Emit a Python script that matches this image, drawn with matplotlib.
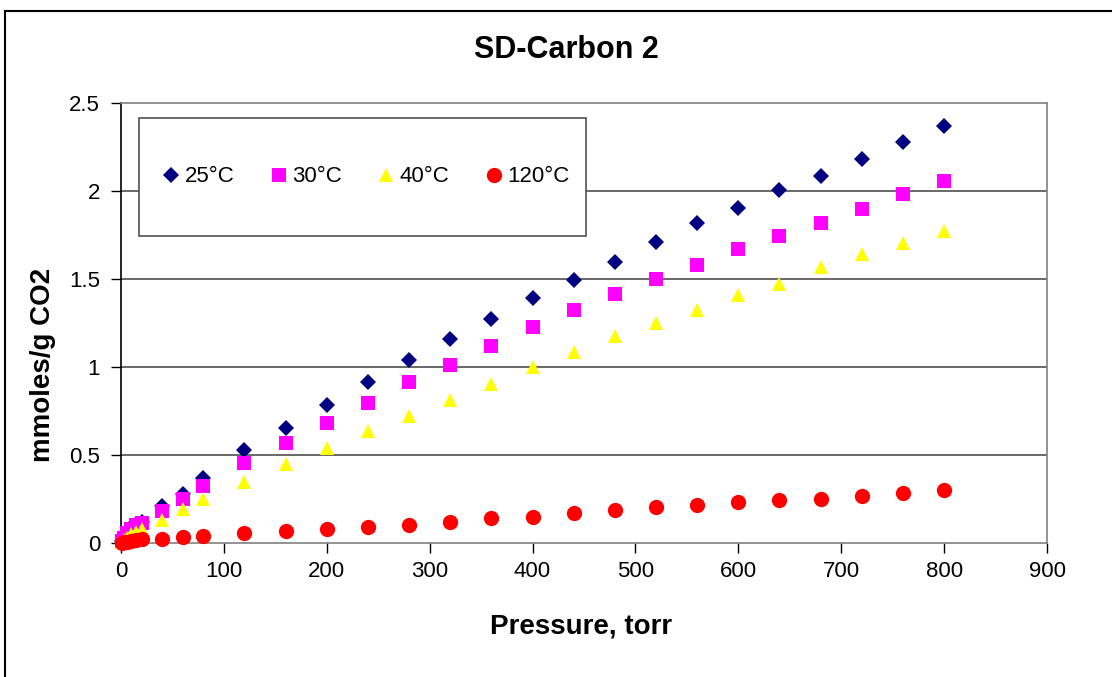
import matplotlib
matplotlib.use("Agg")
import matplotlib.pyplot as plt
from matplotlib.patches import Rectangle
from matplotlib.lines import Line2D

plt.rcParams['font.family'] = ['Liberation Sans', 'DejaVu Sans']

# pressure points, torr
pressure = [1, 3, 6, 10, 15, 20, 40, 60, 80, 120, 160, 200, 240, 280, 320,
            360, 400, 440, 480, 520, 560, 600, 640, 680, 720, 760, 800]

# mmoles/g CO2 at each temperature
co2_25 = [0.01, 0.03, 0.06, 0.09, 0.11, 0.12, 0.21, 0.28, 0.37, 0.53, 0.655,
          0.785, 0.917, 1.04, 1.16, 1.273, 1.393, 1.493, 1.598, 1.711, 1.816,
          1.903, 2.006, 2.085, 2.18, 2.281, 2.37]
co2_30 = [0.01, 0.03, 0.055, 0.08, 0.10, 0.115, 0.181, 0.25, 0.322, 0.452,
          0.566, 0.684, 0.794, 0.912, 1.013, 1.117, 1.225, 1.326, 1.416, 1.501,
          1.582, 1.672, 1.744, 1.816, 1.896, 1.985, 2.057]
co2_40 = [0.005, 0.015, 0.03, 0.05, 0.065, 0.08, 0.131, 0.193, 0.25, 0.344,
          0.45, 0.54, 0.636, 0.722, 0.813, 0.903, 0.998, 1.085, 1.174, 1.252,
          1.324, 1.407, 1.471, 1.568, 1.64, 1.706, 1.771]
co2_120 = [0.002, 0.005, 0.008, 0.012, 0.016, 0.02, 0.025, 0.034, 0.04, 0.054,
           0.068, 0.078, 0.089, 0.105, 0.118, 0.144, 0.15, 0.172, 0.188, 0.203,
           0.217, 0.231, 0.246, 0.252, 0.269, 0.284, 0.299]

labels = ['25°C', '30°C', '40°C', '120°C']
x_ticks = [0, 100, 200, 300, 400, 500, 600, 700, 800, 900]
y_ticks = [0, 0.5, 1, 1.5, 2, 2.5]

W, H = 1112, 677
fig = plt.figure(figsize=(W / 100, H / 100), dpi=100)
ax = fig.add_axes([121 / W, 1 - 543 / H, 926 / W, 440 / H])

# outer chart frame
fig.add_artist(Line2D([5 / W, 5 / W], [0, 1 - 11 / H], color='black', lw=1.5,
                      transform=fig.transFigure))
fig.add_artist(Line2D([5 / W, 1], [1 - 11 / H, 1 - 11 / H], color='black', lw=1.5,
                      transform=fig.transFigure))

#series, later ones drawn on top
ax.plot(pressure, co2_25, 'D', color='#000080', ms=8.5, mew=0, clip_on=False, zorder=3)
ax.plot(pressure, co2_30, 's', color='#FF00FF', ms=10.5, mew=0, clip_on=False, zorder=4)
ax.plot(pressure, co2_40, '^', color='#FFFF00', ms=10.5, mew=0, clip_on=False, zorder=5)
ax.plot(pressure, co2_120, 'o', color='#FF0000', ms=11, mew=0, clip_on=False, zorder=6)

ax.set_xlim(0, 900)
ax.set_ylim(0, 2.5)
ax.set_xticks(x_ticks)
ax.set_yticks(y_ticks)
ax.set_xticklabels([str(t) for t in x_ticks])
ax.set_yticklabels(['0', '0.5', '1', '1.5', '2', '2.5'])
ax.tick_params(axis='both', labelsize=16, direction='out', length=7, width=1,
               color='black')
ax.tick_params(axis='x', pad=6)
ax.tick_params(axis='y', pad=8)

for y in y_ticks[1:-1]:
    ax.axhline(y, color='#404040', lw=1.1, zorder=1)
for side in ['top', 'right', 'bottom']:
    ax.spines[side].set_color('#808080')
    ax.spines[side].set_linewidth(1.2)
ax.spines['left'].set_color('black')
ax.spines['left'].set_linewidth(1.2)

# legend box
ax.add_patch(Rectangle((18 / 926, (543 - 236) / 440), 447 / 926, 118 / 440,
                       transform=ax.transAxes, facecolor='white',
                       edgecolor='#505050', lw=1.2, zorder=7))
handles = [
    Line2D([], [], ls='', marker='D', color='#000080', ms=8.5, mew=0),
    Line2D([], [], ls='', marker='s', color='#FF00FF', ms=10.5, mew=0),
    Line2D([], [], ls='', marker='^', color='#FFFF00', ms=10.5, mew=0),
    Line2D([], [], ls='', marker='o', color='#FF0000', ms=11, mew=0),
]
leg = ax.legend(handles, labels, loc='center', ncol=4, frameon=False,
                bbox_to_anchor=((366 - 121) / 926, (543 - 177) / 440),
                fontsize=16, handlelength=0.8, handletextpad=0.2,
                columnspacing=1.6)
leg.set_zorder(8)

fig.text(566 / W, 1 - 50 / H, 'SD-Carbon 2', ha='center', va='center',
         fontsize=22, fontweight='bold')
fig.text(581 / W, 1 - 626 / H, 'Pressure, torr', ha='center', va='center',
         fontsize=20, fontweight='bold')
fig.text(43 / W, 1 - 365 / H, 'mmoles/g CO2', ha='center', va='center',
         rotation=90, fontsize=20, fontweight='bold')

fig.savefig('out.png', dpi=100)
